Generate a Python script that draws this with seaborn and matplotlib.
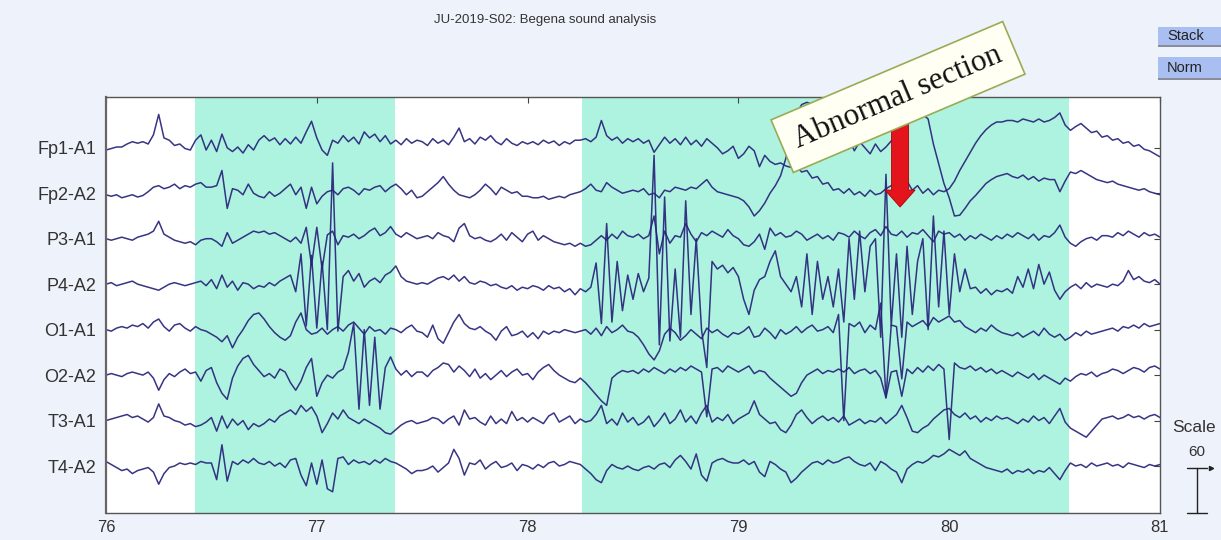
import numpy as np
import pandas as pd
import matplotlib
matplotlib.use("Agg")
import matplotlib.pyplot as plt
import matplotlib.transforms as mtransforms
from matplotlib.patches import Rectangle, FancyArrow
import seaborn as sns

# ---- recording: 8 referential channels, 76 s .. 81 s, 40 samples/s (values in uV) ----
channels = ["Fp1-A1", "Fp2-A2", "P3-A1", "P4-A2", "O1-A1", "O2-A2", "T3-A1", "T4-A2"]
t_start, t_end, fs = 76.0, 81.0, 40

fp1 = [-3,-1,1,1,5,8,6,8,5,17, 44,13,10,3,5,-1,-3,10,17,-3, 10,-5,18,0,-5,1,-7,4,-3,10,
       16,9,13,4,12,5,14,6,21,35, 13,-3,-10,10,6,16,8,14,5,21, 13,18,8,16,5,10,4,12,6,10,
       8,3,12,6,10,4,14,26,8,12, 5,14,10,16,8,4,12,6,3,8, 5,8,4,10,6,9,3,8,5,10,
       10,12,8,14,36,16,10,14,6,12, 8,12,6,10,-6,4,14,6,12,4, 14,4,10,2,12,6,0,-8,-4,2,
       -14,-8,2,-4,-25,-10,-18,-22,-20,-24, -26,-24,-32,-30,-40,-38,-48,-46,-56,-54,
       -60,-54,-62,-58,-64,-56,-62,-60,-54,-50, -46,-52,-44,-56,-50,-60,-54,-62,-56,-58,
       -54,-44,-30,-18,-6,6,16,24,30,34, 34,36,36,34,38,36,34,38,34,36,
       40,46,30,23,28,32,26,20,22,14, 16,10,12,6,8,2,4,-2,-4,-8,-12]
fp2 = [-2,-4,-2,-6,-4,-2,-5,-3,2,8, 10,6,8,12,6,10,8,12,14,8, 8,10,30,-20,6,4,-2,12,0,-4,
       -6,2,-4,0,6,12,-2,8,-20,8, -14,-4,2,4,-2,6,8,4,-2,6, 4,8,10,2,8,12,6,-2,4,-6,
       -4,2,8,14,22,12,4,-2,-4,-6, -2,4,12,6,-2,8,4,0,2,-4, -4,-6,-6,-4,-8,-6,-4,-6,-2,0,
       2,6,12,4,2,14,8,4,0,2, 4,2,6,-2,0,-6,4,2,8,6, 4,8,6,12,18,8,2,0,-2,-4,
       -6,-10,-18,-30,-23,-13,0,10,23,46, 78,104,117,120,117,111,101,91,81,74,
       65,72,56,68,60,52,65,55,61,69, 78,85,91,98,101,104,98,65,39,13,
       -6,-30,-29,-20,-10,-3,5,13,18,22, 24,26,22,20,24,18,22,16,20,18,
       18,2,16,28,26,30,26,22,18,16, 14,16,12,10,8,6,4,6,2,0,-2]
p3 = [0,-2,0,2,0,-2,2,4,6,10, 23,6,2,-2,-4,-6,-4,-8,-2,0, 0,-4,-10,8,-6,-2,2,6,10,8,
      10,6,8,4,0,-4,2,-6,15,-35, 15,-40,5,10,-8,4,2,6,0,4, 10,14,4,8,16,6,2,8,4,0,
      2,4,0,8,4,2,-4,14,20,4, 0,2,-2,-4,0,6,-2,8,2,-4, 6,10,-2,4,0,-4,-6,-8,-6,-10,
      -6,-10,-8,-2,4,-2,6,0,10,4, 2,6,0,4,30,-20,10,-6,4,2, 20,6,-4,8,4,10,6,2,12,4,
      0,-8,-10,-4,6,-14,14,4,8,2, 4,10,6,-2,2,6,0,4,-2,8, 6,2,10,4,0,8,12,4,16,6,
      4,10,2,8,6,12,4,-4,10,6, 8,2,6,-2,4,0,6,2,-2,4, 0,6,2,8,4,0,6,-2,4,2,
      8,18,2,-6,-10,-4,0,2,-2,4, 4,2,8,4,10,6,2,8,4,6,2]
p4 = [0,2,-2,0,2,4,0,-2,-4,-6, -8,-4,0,2,0,-2,0,2,4,-2, 6,-6,12,-4,4,-8,2,0,-6,-2,
      -4,2,-2,4,8,12,-10,40,-55,38, -58,30,-60,160,-62,10,18,4,14,-4, 4,8,2,12,16,24,10,4,2,0,
      2,0,4,8,10,6,12,4,10,2, 0,4,2,-2,0,-4,-6,-2,-8,-4, -6,-2,-4,-8,-2,-6,-4,-10,-6,-14,
      -6,-10,-4,28,-52,80,-50,30,-35,12, -20,14,-10,8,170,-80,115,-75,20,-70,
      110,-40,60,-60,-110,30,20,25,15,22, 10,-20,-40,-8,6,10,30,44,10,0,
      -10,10,-30,40,-40,30,-20,10,-30,20, -50,60,-20,70,-10,50,60,-70,145,-55,
      40,-70,50,-40,30,60,-60,90,-30,70, -40,40,-10,20,-6,-4,-12,-6,-14,-8,
      -10,-6,-12,10,-4,20,-6,26,0,16, -8,-20,-10,-4,0,-6,2,-4,0,-2, -4,0,-2,4,18,6,10,4,2,6,0]
o1 = [0,-2,2,4,2,6,4,8,2,10, 14,4,-2,6,8,2,-2,4,0,-2, -6,-10,-16,-8,-24,-10,0,12,20,22,
      14,4,-4,-10,-14,-8,10,22,0,-6, -4,2,-6,0,4,-2,6,10,2,-6, 4,-2,0,-6,2,0,-4,2,6,-2,
      -4,-10,6,-12,-18,-4,10,20,8,2, 0,4,-2,-6,-14,-2,4,-8,-6,-2, -10,-4,-12,-2,-6,-2,-4,0,-2,-4,
      -2,0,-6,2,-8,4,-4,0,6,-2, -4,-10,-20,-32,-40,-28,-6,2,-4,-14, -8,0,-6,-12,2,-4,0,-6,-10,-4,
      -6,-2,4,-10,-8,2,-4,-12,0,-6, -2,4,-4,2,6,-2,0,4,-4,20, -120,8,4,10,-4,6,0,35,-90,6,
      4,-65,10,4,8,12,4,16,10,14, 18,10,12,4,0,-4,2,-2,6,0, -4,-6,-8,-4,-10,-6,-2,-8,2,-6,
      -10,-6,-14,-10,-4,-8,-2,-6,-4,-2, 0,2,-2,4,2,6,2,8,4,6,8]
o2 = [0,2,0,-2,2,4,2,0,4,-4, -20,-6,2,-2,4,8,2,4,-8,6, 10,-10,-24,-32,-4,12,22,26,14,6,
      -2,2,-4,8,4,-10,-20,-8,10,22, -28,-10,0,-4,4,8,30,68,-45,60, -40,50,-45,10,24,8,0,6,-2,4,
      4,-2,6,10,16,14,4,12,6,-2, 8,-4,2,-6,0,6,-2,4,8,0, 2,-6,4,10,14,6,0,-4,-8,-10,
      -4,-10,-18,-26,-34,-40,-4,2,6,4, 6,2,8,4,10,6,2,8,4,10, 6,12,8,4,-55,8,10,4,12,8,
      4,8,12,2,6,4,-4,-10,-16,-22, -28,-24,-10,0,4,8,2,6,4,8, 4,10,2,6,8,2,6,-4,-30,4,
      6,-28,8,2,10,4,12,6,14,8, -85,16,10,8,12,6,10,4,8,2, 6,2,-2,4,0,-4,2,-6,0,-4,
      -8,-12,-4,-8,-2,2,0,4,-2,2, 4,8,6,2,6,10,8,4,10,12,8]
t3 = [0,2,4,6,8,4,6,2,-2,4, 22,6,4,0,-2,-6,-4,-8,-6,-2, 4,-14,6,-10,2,-6,0,-12,-4,-8,
      -4,2,-2,6,10,14,8,20,12,18, 6,-16,-4,10,2,14,4,0,-4,2, -2,-6,-10,-16,-18,-12,-6,-2,0,-4,
      -2,0,4,2,-4,2,6,-6,14,2, 4,-2,-6,6,-4,2,-4,12,0,4, -2,4,0,-4,6,10,-2,2,6,-4,
      2,-2,0,8,20,-4,2,-6,10,-2, 4,-6,-2,6,-8,0,10,-4,2,14, -2,6,-4,10,20,-2,4,0,8,-4,
      2,6,10,26,8,2,-4,-2,-12,-16, -6,8,14,4,-4,2,6,0,4,-2, 6,-6,-2,2,-4,0,-2,4,-4,2,
      8,20,4,-14,-16,-10,-6,2,8,14, 16,8,4,10,2,6,-2,4,0,6, 2,4,0,-4,2,-2,6,0,4,-4,
      6,16,-2,-10,-14,-18,-22,-14,-6,2, 4,6,2,4,8,4,6,2,6,8,4]
t4 = [6,2,-2,-6,-4,-10,-6,-4,-2,-8, -24,-10,-2,0,4,2,4,2,6,4, 4,-18,28,-20,6,2,8,4,10,4,
      2,6,0,4,-2,8,10,-12,-26,4, -24,8,-30,-34,10,12,2,8,4,6, 2,8,4,10,6,4,0,-4,-10,-6,
      -6,-4,0,-8,-2,4,22,10,-12,4, 2,8,-4,2,6,-2,0,4,-6,2, 0,-4,2,-2,4,6,0,2,6,4,
      2,-4,-10,-18,-22,-6,2,-2,-4,0, -4,-6,-2,0,-4,2,4,-2,8,14, 6,-4,16,-12,-20,4,8,10,6,4,
      4,8,2,6,-8,-14,6,2,-4,-8, -22,-16,-8,-2,4,6,2,8,4,6, 10,12,6,2,0,4,-6,6,2,-4,
      -8,-22,-4,2,6,4,8,14,12,16, 22,18,14,20,10,6,2,-2,-4,-6, -8,-4,-10,-6,-8,-4,-10,-6,-8,-2,
      -10,-18,-6,4,0,2,-2,4,0,2, 4,0,2,-2,4,2,0,-2,2,0,2]

# marked epochs (s)
epoch_starts = [76.42, 78.26]
epoch_ends = [77.37, 80.57]

x_ticks = [76, 77, 78, 79, 80, 81]
channel_gap = 60          # uV between stacked traces
scale_value = 60          # uV

series = [fp1, fp2, p3, p4, o1, o2, t3, t4]
n = int(round((t_end - t_start) * fs)) + 1
for name, s in zip(channels, series):
    assert len(s) == n, (name, len(s))
time = t_start + np.arange(n) / fs

# long-form table, each channel stacked on its own baseline
offsets = [(len(channels) - 1 - k) * channel_gap for k in range(len(channels))]
frames = []
for name, s, off in zip(channels, series, offsets):
    frames.append(pd.DataFrame({"time": time, "uv": np.asarray(s, float) + off, "channel": name}))
df = pd.concat(frames, ignore_index=True)

sns.set_theme(style="white")
plt.rcParams["font.family"] = ["Liberation Sans", "DejaVu Sans"]

W, H = 1221, 540
fig = plt.figure(figsize=(W / 100, H / 100), dpi=100, facecolor="#eef2fa")
ax = fig.add_axes([106 / W, 27 / H, 1054 / W, 416 / H])
ax.set_facecolor("white")

for a, b in zip(epoch_starts, epoch_ends):
    ax.axvspan(a, b, color="#aef3df", lw=0, zorder=0)

trace_color = "#27237a"
sns.lineplot(data=df, x="time", y="uv", hue="channel", palette=[trace_color] * len(channels),
             legend=False, estimator=None, sort=False, lw=1.1, alpha=0.92, ax=ax, zorder=2)

ax.set_xlim(t_start, t_end)
ax.set_ylim(-62, 487)
ax.set_xticks(x_ticks)
ax.set_xticklabels([str(v) for v in x_ticks])
ax.set_yticks(offsets)
ax.set_yticklabels(channels)
ax.set_xlabel("")
ax.set_ylabel("")
ax.tick_params(axis="both", direction="in", length=4, width=0.8, color="#444444",
               labelsize=12, labelcolor="#333333", top=True, right=True)
ax.tick_params(axis="y", labelsize=13, pad=7)
ax.tick_params(axis="x", pad=5)
for side, sp in ax.spines.items():
    sp.set_color("#555555")
    sp.set_linewidth(1.0)
ax.spines["left"].set_linewidth(1.6)
ax.spines["left"].set_color("#666666")

# title
fig.text(545 / W, 1 - 20 / H, "JU-2019-S02: Begena sound analysis", ha="center", va="center",
         fontsize=9.5, color="#333333")

# side buttons
for label, top, bottom in [("Stack", 27, 45), ("Norm", 57, 78)]:
    fig.add_artist(Rectangle((1158 / W, 1 - (bottom + 2) / H), 70 / W, 2 / H,
                             transform=fig.transFigure, color="#8c8c9a", lw=0))
    fig.add_artist(Rectangle((1158 / W, 1 - bottom / H), 70 / W, (bottom - top) / H,
                             transform=fig.transFigure, facecolor="#a9bff2", lw=0))
    fig.text(1167 / W, 1 - (top + bottom) / 2 / H, label, ha="left", va="center",
             fontsize=10.5, color="#222222")

# amplitude scale bar (60 uV in data units)
bt = mtransforms.blended_transform_factory(fig.transFigure, ax.transData)
y0 = ax.get_ylim()[0]
xs = 1197 / W
cap = 10 / W
ax.plot([xs, xs], [y0, y0 + scale_value], color="#222222", lw=1.0, transform=bt, clip_on=False)
ax.plot([xs - cap, xs + cap], [y0, y0], color="#222222", lw=1.0, transform=bt, clip_on=False)
ax.plot([xs - cap, xs + cap], [y0 + scale_value, y0 + scale_value], color="#222222", lw=1.0,
        transform=bt, clip_on=False)
ax.plot([xs + 14 / W], [y0 + scale_value], marker=">", ms=3, color="#222222",
        transform=bt, clip_on=False)
fig.text(1172 / W, 1 - 427 / H, "Scale", ha="left", va="center", fontsize=12.5, color="#333333")
fig.text(xs, 1 - 452 / H, str(scale_value), ha="center", va="center", fontsize=11, color="#333333")

# annotation of the abnormal epoch
fig.text(898 / W, 1 - 97 / H, "Abnormal section", rotation=23, rotation_mode="anchor",
         ha="center", va="center", fontsize=22.5, family=["Liberation Serif", "DejaVu Serif"],
         color="#111111", zorder=10,
         bbox=dict(boxstyle="square,pad=0.45", fc="#fffff4", ec="#9aab55", lw=1.2))
arrow_x = 79.767
arrow = FancyArrow(arrow_x, 456.6, 0, -114.8, width=0.081, head_width=0.143, head_length=22.4,
                   length_includes_head=True, fc="#e3141c", ec="#b00000", lw=0.6, zorder=6)
ax.add_patch(arrow)

fig.savefig("out.png", dpi=100, facecolor=fig.get_facecolor())
